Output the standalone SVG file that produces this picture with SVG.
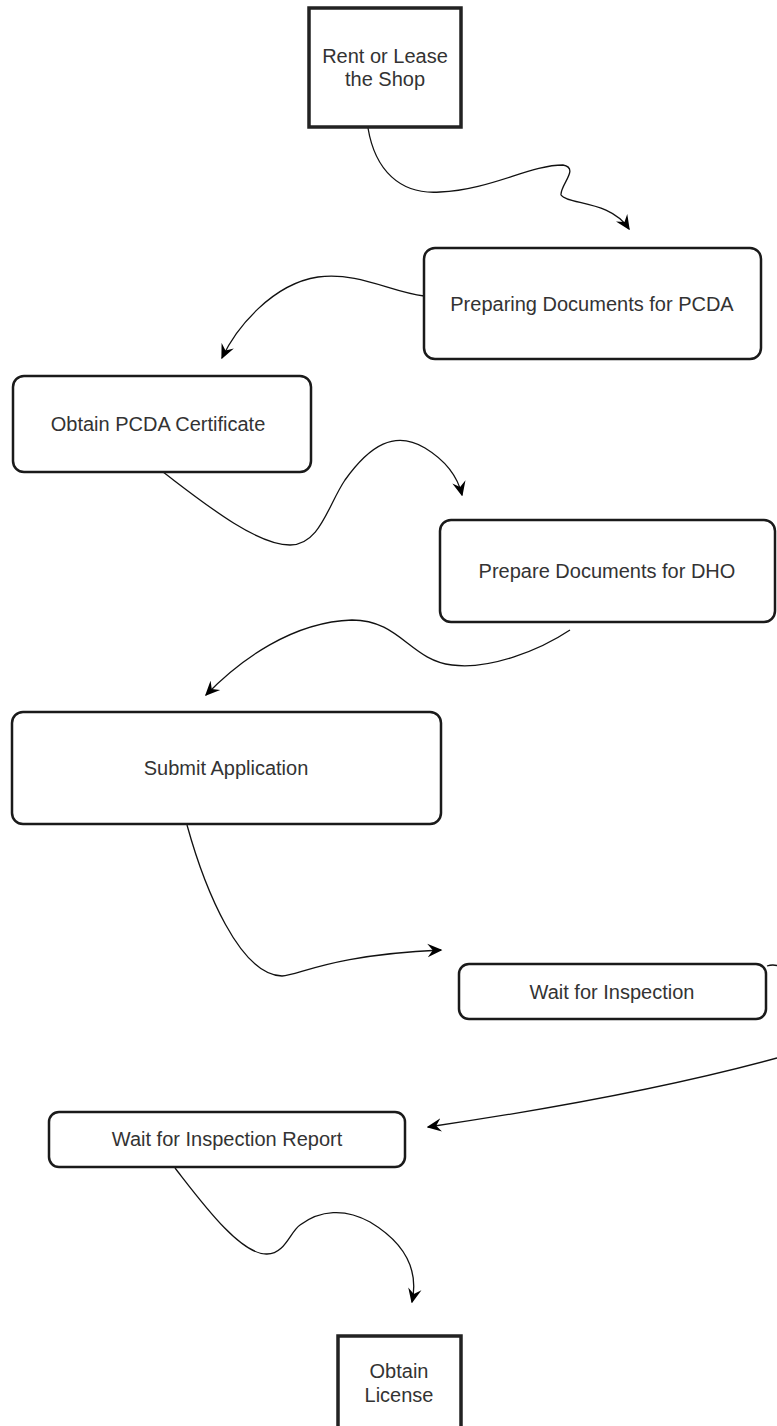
<svg xmlns="http://www.w3.org/2000/svg" width="777" height="1426" viewBox="0 0 777 1426">
<style>
.box{fill:#fff;stroke:#1a1a1a;stroke-width:2.5}
.sq{fill:#fff;stroke:#222;stroke-width:3.5}
.t{font-family:"Liberation Sans",Arial,sans-serif;font-size:20px;fill:#333;text-anchor:middle}
.c{fill:none;stroke:#111;stroke-width:1.3}
</style>
<defs>
<marker id="arr" viewBox="0 0 10 10" refX="9" refY="5" markerWidth="15" markerHeight="15" markerUnits="userSpaceOnUse" orient="auto">
<path d="M0,0.5 L10,5 L0,9.5 L3.5,5 z" fill="#000"/>
</marker>
</defs>
<rect width="777" height="1426" fill="#fff"/>
<g id="connectors">
<path class="c" marker-end="url(#arr)" d="M368,128 C375,170 400,195 440,192 C490,190 530,165 563,165 C580,168 560,185 561,195 C568,205 610,200 629,229"/>
<path class="c" marker-end="url(#arr)" d="M424,296 C390,292 360,272 318,277 C272,284 236,328 222,358"/>
<path class="c" marker-end="url(#arr)" d="M163,472 C200,500 255,545 290,545 C320,545 328,505 345,480 C370,445 395,430 425,448 C448,462 458,478 462,495"/>
<path class="c" marker-end="url(#arr)" d="M570,630 C540,650 490,670 452,665 C410,660 400,620 352,620 C292,622 240,660 206,695"/>
<path class="c" marker-end="url(#arr)" d="M187,825 C205,890 240,975 282,976 C300,975 330,955 441,950"/>
<path class="c" d="M767,966 C800,955 830,1045 777,1058"/>
<path class="c" marker-end="url(#arr)" d="M777,1058 C660,1090 530,1112 428,1127"/>
<path class="c" marker-end="url(#arr)" d="M175,1168 C200,1200 240,1255 267,1254 C285,1254 290,1232 300,1225 C320,1210 345,1208 370,1222 C400,1240 420,1265 412,1302"/>
</g>
<g id="rent">
<rect class="sq" x="309" y="8" width="152" height="119"/>
<text class="t" x="385" y="63">Rent or Lease</text>
<text class="t" x="385" y="86">the Shop</text>
</g>
<g id="prep-pcda">
<rect class="box" x="424" y="248" width="337" height="111" rx="11"/>
<text class="t" x="592" y="311">Preparing Documents for PCDA</text>
</g>
<g id="obtain-pcda">
<rect class="box" x="13" y="376" width="298" height="96" rx="11"/>
<text class="t" x="158" y="431">Obtain PCDA Certificate</text>
</g>
<g id="prep-dho">
<rect class="box" x="440" y="520" width="335" height="102" rx="11"/>
<text class="t" x="607" y="578">Prepare Documents for DHO</text>
</g>
<g id="submit">
<rect class="box" x="12" y="712" width="429" height="112" rx="11"/>
<text class="t" x="226" y="775">Submit Application</text>
</g>
<g id="wait-inspection">
<rect class="box" x="459" y="964" width="307" height="55" rx="10"/>
<text class="t" x="612" y="999">Wait for Inspection</text>
</g>
<g id="wait-report">
<rect class="box" x="49" y="1112" width="356" height="55" rx="10"/>
<text class="t" x="227" y="1146">Wait for Inspection Report</text>
</g>
<g id="license">
<rect class="sq" x="338" y="1336" width="123" height="100"/>
<text class="t" x="399" y="1378">Obtain</text>
<text class="t" x="399" y="1402">License</text>
</g>
</svg>
